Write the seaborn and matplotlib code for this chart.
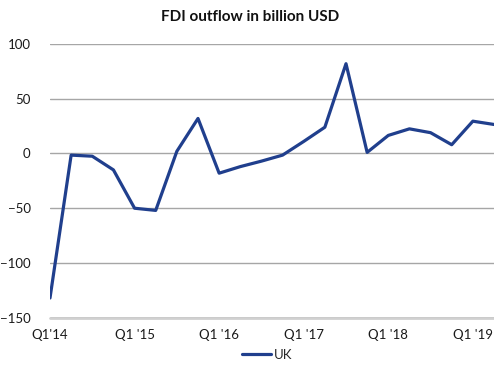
import matplotlib
matplotlib.use("Agg")
import matplotlib.pyplot as plt
import seaborn as sns
import pandas as pd

quarters = ["Q1'14", "Q2'14", "Q3'14", "Q4'14",
            "Q1'15", "Q2'15", "Q3'15", "Q4'15",
            "Q1'16", "Q2'16", "Q3'16", "Q4'16",
            "Q1'17", "Q2'17", "Q3'17", "Q4'17",
            "Q1'18", "Q2'18", "Q3'18", "Q4'18",
            "Q1'19", "Q2'19"]
uk_values = [-132, -1.5, -2.5, -15,
             -50, -52, 2, 32,
             -18, -12, -7, -1.5,
             11, 24, 82, 1,
             16.5, 22.5, 19, 8,
             29.5, 26.5]
tick_labels = ["Q1'14", "Q1 '15", "Q1 '16", "Q1 '17", "Q1 '18", "Q1 '19"]

df = pd.DataFrame({"idx": range(len(quarters)), "value": uk_values, "series": "UK"})

sns.set_theme(style="white")
plt.rcParams['font.family'] = ['Lato', 'DejaVu Sans']

fig = plt.figure(figsize=(4.94, 3.70), dpi=100)
ax = fig.add_axes([50/494, 1 - 317.7/370, 444/494, (317.7 - 44)/370])

sns.lineplot(data=df, x="idx", y="value", hue="series", palette=["#203F8D"],
             linewidth=2.3, ax=ax, legend=True)

ax.set_xlim(0, 21)
ax.set_ylim(-150, 100)
ax.set_yticks([-150, -100, -50, 0, 50, 100])
ax.set_xticks(range(0, 22, 4))
ax.set_xticklabels(tick_labels)
ax.set_xlabel("")
ax.set_ylabel("")
for s in ax.spines.values():
    s.set_visible(False)
ax.yaxis.grid(True, color="#A6A6A6", linewidth=1.0)
ax.xaxis.grid(False)
ax.set_axisbelow(True)
ax.axhline(-150, color="#D0D0D0", linewidth=2.0, zorder=0, clip_on=False)
ax.tick_params(axis="y", length=0, pad=14, labelsize=9.5, labelcolor="#1a1a1a")
ax.tick_params(axis="x", length=0, pad=8, labelsize=9.5, labelcolor="#1a1a1a")

fig.text(0.5 + 3/494, 1 - 17/370, "FDI outflow in billion USD", ha="center", va="center",
         fontsize=11, fontweight="bold", color="#111111")

leg = ax.legend(loc="center", frameon=False, fontsize=9.5, handlelength=2.2, handletextpad=0.2)
leg.set_bbox_to_anchor((267/494, 1 - 355/370), transform=fig.transFigure)
for l in leg.get_lines():
    l.set_linewidth(2.3)

fig.savefig("out.png", dpi=100)
